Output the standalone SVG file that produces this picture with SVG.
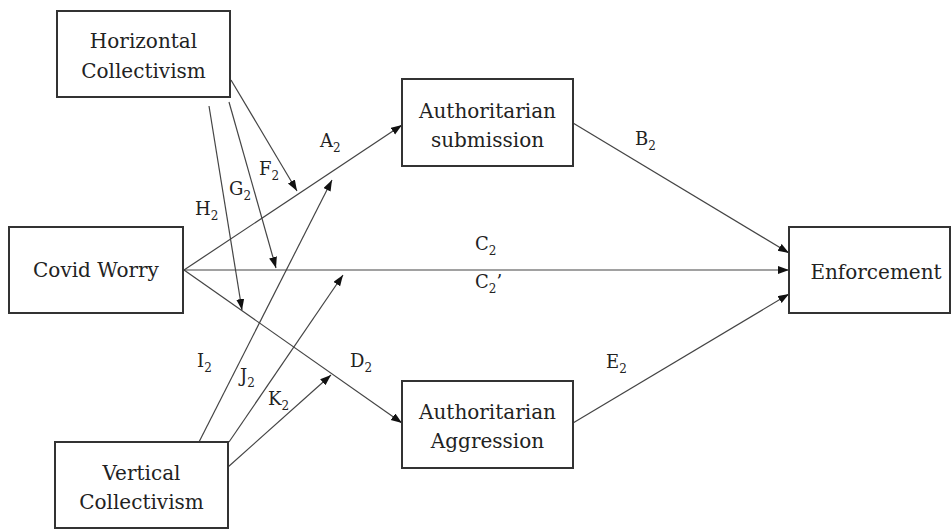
<svg xmlns="http://www.w3.org/2000/svg" width="952" height="529" viewBox="0 0 952 529">
<style>
.box{fill:#fff;stroke:#333;stroke-width:2}
.nt{font-family:"DejaVu Serif","Liberation Serif",serif;font-size:20px;fill:#222;text-anchor:middle}
.lb{font-family:"DejaVu Serif","Liberation Serif",serif;font-size:18px;fill:#222}
.sb{font-size:12px}
.ln{stroke:#444;stroke-width:1.2;fill:none;marker-end:url(#ah)}
</style>
<defs>
<marker id="ah" markerUnits="userSpaceOnUse" markerWidth="12" markerHeight="10" refX="11" refY="4" orient="auto">
<path d="M0,0 L11,4 L0,8 Z" fill="#111"/>
</marker>
</defs>
<rect x="0" y="0" width="952" height="529" fill="#fff"/>
<g id="connectors">
<line class="ln" x1="184" y1="270" x2="402" y2="125"/>
<line class="ln" x1="573" y1="123" x2="789" y2="253"/>
<line class="ln" x1="184" y1="270" x2="789" y2="270"/>
<line class="ln" x1="184" y1="270" x2="402" y2="423"/>
<line class="ln" x1="573" y1="423" x2="789" y2="294"/>
<line class="ln" x1="231" y1="80" x2="297" y2="191"/>
<line class="ln" x1="229" y1="102" x2="276" y2="268"/>
<line class="ln" x1="209" y1="106" x2="242" y2="310"/>
<line class="ln" x1="199" y1="442" x2="332" y2="180"/>
<line class="ln" x1="229" y1="442" x2="343" y2="275"/>
<line class="ln" x1="228" y1="467" x2="331" y2="375"/>
</g>
<g id="labels">
<text class="lb" x="320" y="147">A<tspan class="sb" dy="5">2</tspan></text>
<text class="lb" x="635" y="145">B<tspan class="sb" dy="5">2</tspan></text>
<text class="lb" x="475" y="250">C<tspan class="sb" dy="5">2</tspan></text>
<text class="lb" x="475" y="288">C<tspan class="sb" dy="5">2</tspan><tspan dy="-5">’</tspan></text>
<text class="lb" x="350" y="367">D<tspan class="sb" dy="5">2</tspan></text>
<text class="lb" x="606" y="368">E<tspan class="sb" dy="5">2</tspan></text>
<text class="lb" x="259" y="175">F<tspan class="sb" dy="5">2</tspan></text>
<text class="lb" x="229" y="195">G<tspan class="sb" dy="5">2</tspan></text>
<text class="lb" x="195" y="215">H<tspan class="sb" dy="5">2</tspan></text>
<text class="lb" x="197" y="367">I<tspan class="sb" dy="5">2</tspan></text>
<text class="lb" x="240" y="382">J<tspan class="sb" dy="5">2</tspan></text>
<text class="lb" x="268" y="405">K<tspan class="sb" dy="5">2</tspan></text>
</g>
<g id="horizontal-collectivism">
<rect class="box" x="57" y="11" width="173" height="86"/>
<text class="nt" x="143.5" y="48">Horizontal</text>
<text class="nt" x="143.5" y="78">Collectivism</text>
</g>
<g id="covid-worry">
<rect class="box" x="9" y="227" width="174" height="86"/>
<text class="nt" x="96" y="277">Covid Worry</text>
</g>
<g id="vertical-collectivism">
<rect class="box" x="55" y="442" width="173" height="86"/>
<text class="nt" x="141.5" y="480">Vertical</text>
<text class="nt" x="141.5" y="509">Collectivism</text>
</g>
<g id="authoritarian-submission">
<rect class="box" x="402" y="79" width="171" height="87"/>
<text class="nt" x="487.5" y="118">Authoritarian</text>
<text class="nt" x="487.5" y="147">submission</text>
</g>
<g id="authoritarian-aggression">
<rect class="box" x="402" y="381" width="171" height="87"/>
<text class="nt" x="487.5" y="419">Authoritarian</text>
<text class="nt" x="487.5" y="448">Aggression</text>
</g>
<g id="enforcement">
<rect class="box" x="789" y="227" width="161" height="86"/>
<text class="nt" x="876" y="279">Enforcement</text>
</g>
</svg>
